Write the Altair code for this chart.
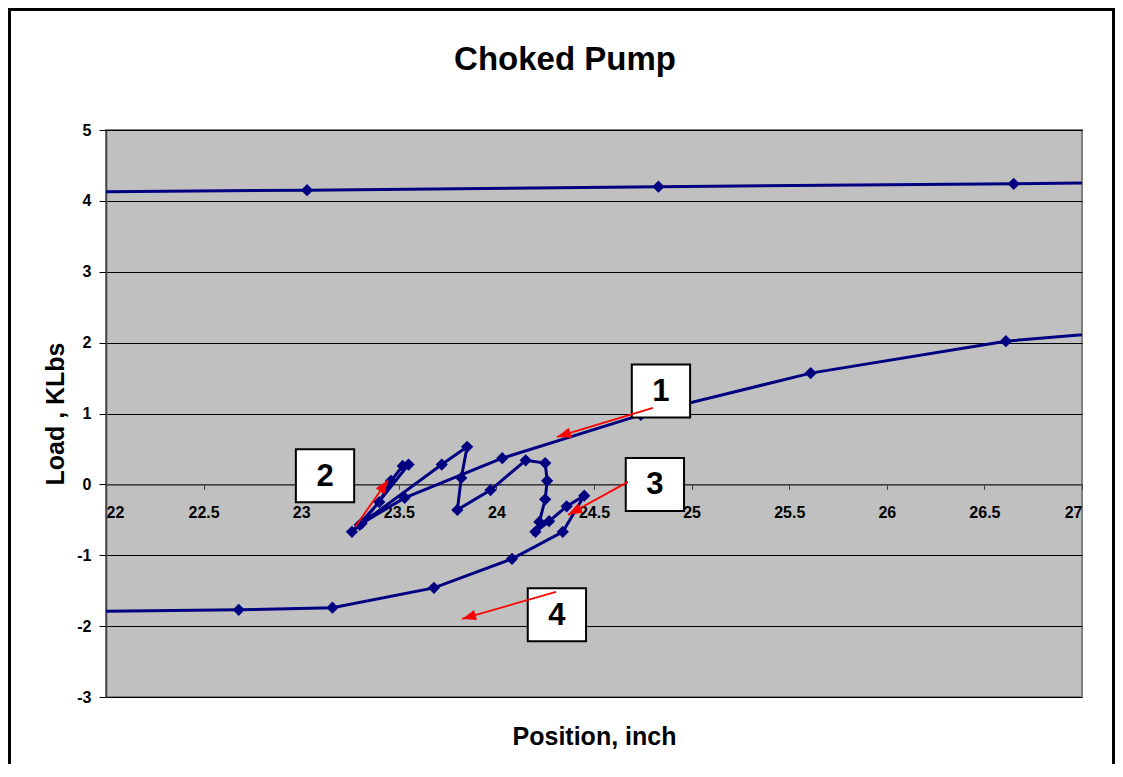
import math
import altair as alt
import pandas as pd

# ---------------- data ----------------
# upper (top) branch of the card
top_x = [21.5, 23.03, 24.83, 26.65, 27.6]
top_y = [4.12, 4.15, 4.20, 4.24, 4.27]

# lower branch (path order, left -> tangle -> right)
low_x = [21.6, 22.68, 23.16, 23.68, 24.08, 24.34, 24.45, 24.36, 24.27, 24.20,
         24.22, 24.25, 24.26, 24.25, 24.15, 23.97, 23.80, 23.82, 23.85, 23.72,
         23.30, 23.26, 23.40, 23.46, 23.52, 23.55, 23.31, 23.53, 24.03, 24.74,
         25.61, 26.61, 27.6]
low_y = [-1.80, -1.77, -1.74, -1.46, -1.05, -0.67, -0.16, -0.31, -0.52, -0.67,
         -0.53, -0.21, 0.05, 0.30, 0.34, -0.08, -0.36, 0.09, 0.53, 0.28,
         -0.57, -0.67, -0.25, 0.05, 0.26, 0.28, -0.55, -0.19, 0.37, 0.98,
         1.57, 2.02, 2.25]

# annotation callouts (label boxes and red arrows, in data units)
ann_label = ["1", "2", "3", "4"]
ann_box_x = [24.843, 23.122, 24.812, 24.31]
ann_box_y = [1.319, 0.12, 0.0, -1.84]
arrow_x0 = [24.802, 23.276, 24.674, 24.305]
arrow_y0 = [1.079, -0.600, 0.035, -1.517]
arrow_x1 = [24.310, 23.445, 24.367, 23.824]
arrow_y1 = [0.670, 0.063, -0.430, -1.898]

x_ticks = [22, 22.5, 23, 23.5, 24, 24.5, 25, 25.5, 26, 26.5, 27]
y_ticks = [-3, -2, -1, 0, 1, 2, 3, 4, 5]

title_text = "Choked Pump"

# ---------------- layout ----------------
W, H = 976, 567
XMIN, XMAX = 22, 27
YMIN, YMAX = -3, 5
FONT = "Liberation Sans"
NAVY = "#000080"

rows = []
for i, (a, b) in enumerate(zip(top_x, top_y)):
    rows.append({"series": "top", "order": i, "x": a, "y": b})
for i, (a, b) in enumerate(zip(low_x, low_y)):
    rows.append({"series": "low", "order": i, "x": a, "y": b})
df = pd.DataFrame(rows)

px_per_x = W / (XMAX - XMIN)
px_per_y = H / (YMAX - YMIN)
angles = []
for x0, y0, x1, y1 in zip(arrow_x0, arrow_y0, arrow_x1, arrow_y1):
    dx = (x1 - x0) * px_per_x
    dy = -(y1 - y0) * px_per_y
    angles.append(math.degrees(math.atan2(dx, -dy)) % 360)

ann = pd.DataFrame({"label": ann_label, "bx": ann_box_x, "by": ann_box_y})
arr = pd.DataFrame({"x0": arrow_x0, "y0": arrow_y0, "x1": arrow_x1,
                    "y1": arrow_y1, "ang": angles})

xs = alt.Scale(domain=[XMIN, XMAX], nice=False, zero=False)
ys = alt.Scale(domain=[YMIN, YMAX], nice=False, zero=False)

# x axis crosses at y = 0
zero_from_bottom = H * (0 - YMIN) / (YMAX - YMIN)

x_axis = alt.Axis(
    values=x_ticks, labelExpr="toString(datum.value)", offset=-zero_from_bottom,
    grid=False, domainColor="#555555", domainWidth=1.5,
    tickColor="#404040", tickSize=5, labelPadding=15,
    labelFont=FONT, labelFontSize=16, labelFontWeight="bold", labelColor="black",
    labelFlush=True,
    title="Position, inch", titleX=W / 2, titleY=252.5, titleFont=FONT,
    titleFontSize=25, titleFontWeight="bold", titleColor="black",
    titleAlign="center", titleBaseline="middle",
)
y_axis = alt.Axis(
    values=y_ticks, labelExpr="toString(datum.value)", grid=True,
    gridColor="black", gridWidth=1,
    domainColor="#404040", domainWidth=1.5, tickColor="black", tickSize=7,
    labelPadding=8, labelFont=FONT, labelFontSize=16, labelFontWeight="bold",
    labelColor="black",
    title="Load , KLbs", titleX=-51, titleY=H / 2, titleAngle=270,
    titleAlign="center", titleBaseline="middle", titleFont=FONT,
    titleFontSize=25, titleFontWeight="bold", titleColor="black",
)

X = alt.X("x:Q", scale=xs, axis=x_axis)
Y = alt.Y("y:Q", scale=ys, axis=y_axis)

base = alt.Chart(df)
line = base.mark_line(color=NAVY, strokeWidth=3, clip=True).encode(
    x=X, y=Y, detail="series:N", order="order:Q",
)
pts = base.mark_point(shape="diamond", filled=True, size=150, color=NAVY,
                      opacity=1, clip=True).encode(x=X, y=Y)

boxes = alt.Chart(ann).mark_point(
    shape="M-1.1,-1H1.1V1H-1.1Z", size=2809, filled=True, fill="white",
    stroke="black", strokeWidth=2, opacity=1, fillOpacity=1,
).encode(x=alt.X("bx:Q", scale=xs, axis=x_axis),
         y=alt.Y("by:Q", scale=ys, axis=y_axis))
texts = alt.Chart(ann).mark_text(
    font=FONT, fontSize=31, fontWeight="bold", color="black",
    align="center", baseline="middle", dy=1,
).encode(x=alt.X("bx:Q", scale=xs, axis=x_axis),
         y=alt.Y("by:Q", scale=ys, axis=y_axis), text="label:N")

arrow_lines = alt.Chart(arr).mark_rule(color="#FF0000", strokeWidth=1.8).encode(
    x=alt.X("x0:Q", scale=xs, axis=x_axis), y=alt.Y("y0:Q", scale=ys, axis=y_axis),
    x2="x1:Q", y2="y1:Q")
arrow_heads = alt.Chart(arr).mark_point(
    shape="M0,0L-0.75,2L0.75,2Z", size=196, filled=True, color="#FF0000",
    opacity=1).encode(
    x=alt.X("x1:Q", scale=xs, axis=x_axis), y=alt.Y("y1:Q", scale=ys, axis=y_axis),
    angle=alt.Angle("ang:Q", scale=None))

title = alt.Chart(pd.DataFrame({"t": [title_text]})).mark_text(
    font=FONT, fontSize=33, fontWeight="bold", color="black",
    align="center", baseline="middle", clip=False).encode(
    text="t:N", x=alt.value(W / 2 - 29), y=alt.value(-70))

frame = alt.Chart(pd.DataFrame({"a": [0]})).mark_rect(
    fillOpacity=0, stroke="black", strokeWidth=3, clip=False).encode(
    x=alt.value(-96.5), x2=alt.value(1007.5),
    y=alt.value(-120.5), y2=alt.value(H + 300))

chart = alt.layer(
    line, pts, boxes, texts, arrow_lines, arrow_heads, title, frame
).properties(
    width=W, height=H,
    autosize=alt.AutoSizeParams(type="none"),
    padding={"left": 98, "top": 122, "right": 33, "bottom": 67},
    background="white",
).configure_view(
    fill="#C0C0C0", stroke="#808080", strokeWidth=2,
)

chart.save("out.html", embed_options={"renderer": "svg", "actions": False})
